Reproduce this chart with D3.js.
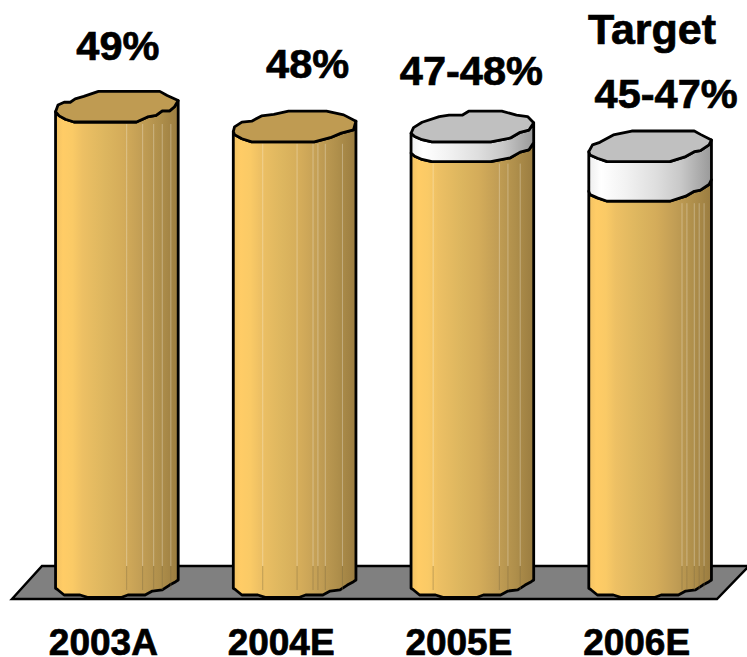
<!DOCTYPE html>
<html><head><meta charset="utf-8">
<script src="https://cdn.jsdelivr.net/npm/d3@7"></script>
<style>html,body{margin:0;padding:0;background:#fff}svg{display:block}text{font-family:"Liberation Sans",Arial,sans-serif;font-weight:700;fill:#000;stroke:#000;stroke-width:.7px}</style>
</head><body><svg id="c" width="747" height="657"></svg>
<script>
const categories=["2003A","2004E","2005E","2006E"];
const baseValues=[49,48,47,45];
const rangeValues=[0,0,1,2];
const valueLabels=["49%","48%","47-48%","45-47%"];
const axisMin=25, axisMax=49;
const W=747,H=657;
const outlineA=[[0,.33],[.02,-.11],[.07,-.29],[.12,-.29],[.16,-.51],[.23,-.67],[.35,-1],[.85,-1],[.91,-.73],[1,-.4],[.97,0],[.93,.27],[.87,.27],[.82,.56],[.75,.67],[.66,1],[.15,1],[.08,.82],[.03,.6]];
const outlineB=[[0,.33],[.01,.02],[.07,-.29],[.15,-.35],[.23,-.69],[.33,-.8],[.45,-1],[.76,-1],[.9,-.76],[1,-.35],[.98,.22],[.88,.43],[.79,.73],[.66,1],[.15,1],[.07,.8],[.01,.53]];
const outlineC=[[0,.44],[.02,.07],[.09,-.28],[.23,-.65],[.31,-.75],[.42,-.75],[.47,-1],[.74,-1],[.86,-.75],[.95,-.65],[1,-.24],[.96,.24],[.89,.38],[.81,.75],[.65,1],[.17,1],[.09,.86],[.03,.65]];
const outlineD=[[0,.35],[.03,-.09],[.09,-.26],[.2,-.74],[.35,-1],[.86,-1],[.91,-.78],[1,-.41],[.98,-.09],[.91,.28],[.86,.35],[.79,.67],[.66,1],[.15,1],[.07,.78],[.01,.57]];
const outlines=[outlineA,outlineB,outlineC,outlineD];
const bottomOutline=[[1,-.13],[.98,-.02],[.93,.2],[.87,.52],[.79,.59],[.73,.85],[.59,.85],[.54,1],[.26,1],[.2,.85],[.07,.85],[.02,.52],[0,.41]];
const seams=[[.58,.71,.8,.87,.94],[.24,.52,.65,.69,.75,.89],[.18,.72,.79,.89],[.76,.8,.86,.9,.94]];
const x=d3.scaleBand().domain(categories).range([28,739]).paddingInner(.31).paddingOuter(.155);
const y=d3.scaleLinear().domain([axisMin,axisMax]).range([582,106.7]);
const halfH=15.3;
const svg=d3.select("#c");
const defs=svg.append("defs");
function grad(id,stops){
  const g=defs.append("linearGradient").attr("id",id);
  stops.forEach(s=>g.append("stop").attr("offset",s[0]).attr("stop-color",s[1]));
}
grad("gold",[[0,"#F2C263"],[.06,"#FFCC66"],[.14,"#FACA66"],[.22,"#EDC064"],[.4,"#DDB65F"],[.55,"#D4AC5A"],[.7,"#C29E55"],[.85,"#AF8F4B"],[1,"#9A7C40"]]);
grad("silver",[[0,"#EEEEEE"],[.1,"#FFFFFF"],[.3,"#F2F2F2"],[.55,"#DEDEDE"],[.75,"#C8C8C8"],[1,"#999999"]]);
const floorTop=566,floorBot=599;
const floorPts=[[12,floorBot],[42,floorTop],[W+2,floorTop],[717,floorBot]];
svg.append("path").attr("d",d3.line()(floorPts)+"Z").attr("fill","#808080").attr("stroke","#000").attr("stroke-width",2.5).attr("stroke-linejoin","miter");

function pts(outline,left,w,cy){return outline.map(p=>[left+p[0]*w,cy+p[1]*halfH]);}
function lowerArc(outline){
  const r=outline.findIndex(p=>p[0]===1);
  return outline.slice(r).concat([outline[0]]);
}
function sidePath(topArc,botArc,left,w,top,bot){
  const a=pts(botArc,left,w,bot);
  const b=pts(topArc,left,w,top).reverse();
  return d3.line()(a.concat(b))+"Z";
}
const bars=svg.selectAll("g.bar").data(categories).join("g").attr("class","bar");
bars.each(function(c,i){
  const g=d3.select(this),left=x(c),w=x.bandwidth(),o=outlines[i],arc=lowerArc(o);
  const baseV=baseValues[i],rng=rangeValues[i];
  const yBase=y(axisMin),yV=y(baseV),yTop=y(baseV+rng);
  const line=(p)=>d3.line()(p)+"Z";
  g.append("path").attr("d",sidePath(arc,bottomOutline,left,w,yV,yBase)).attr("fill","url(#gold)").attr("stroke","#000").attr("stroke-width",2.8).attr("stroke-linejoin","round");
  seams[i].forEach(u=>{
    g.append("line").attr("x1",left+u*w).attr("x2",left+u*w).attr("y1",yV+halfH+2).attr("y2",floorTop).attr("stroke","#fff").attr("stroke-opacity",.3).attr("stroke-width",1);
    g.append("line").attr("x1",left+u*w).attr("x2",left+u*w).attr("y1",floorTop).attr("y2",yBase+8).attr("stroke","#7a6a40").attr("stroke-opacity",.4).attr("stroke-width",1);
  });
  if(rng>0){
    g.append("path").attr("d",sidePath(arc,arc,left,w,yTop,yV)).attr("fill","url(#silver)").attr("stroke","#000").attr("stroke-width",2.8).attr("stroke-linejoin","round");
  }
  g.append("path").attr("d",line(pts(o,left,w,yTop))).attr("fill",rng>0?"#C0C0C0":"#BF9B52").attr("stroke","#000").attr("stroke-width",2.8).attr("stroke-linejoin","round");
});
const catDx=-13.5;
svg.selectAll("text.cat").data(categories).join("text").attr("class","cat")
  .attr("x",d=>x(d)+x.bandwidth()/2+catDx).attr("y",655).attr("text-anchor","middle").attr("font-size",37).text(d=>d);
const labelDx=[1,13,-1,16],labelDy=[-47,-49,-42,-38];
svg.selectAll("text.val").data(valueLabels).join("text").attr("class","val")
  .attr("x",(d,i)=>x(categories[i])+x.bandwidth()/2+labelDx[i])
  .attr("y",(d,i)=>y(baseValues[i]+rangeValues[i])+labelDy[i])
  .attr("text-anchor","middle").attr("font-size",41.5).text(d=>d);
svg.append("text").attr("x",652).attr("y",44).attr("text-anchor","middle").attr("font-size",43).text("Target");
</script></body></html>
